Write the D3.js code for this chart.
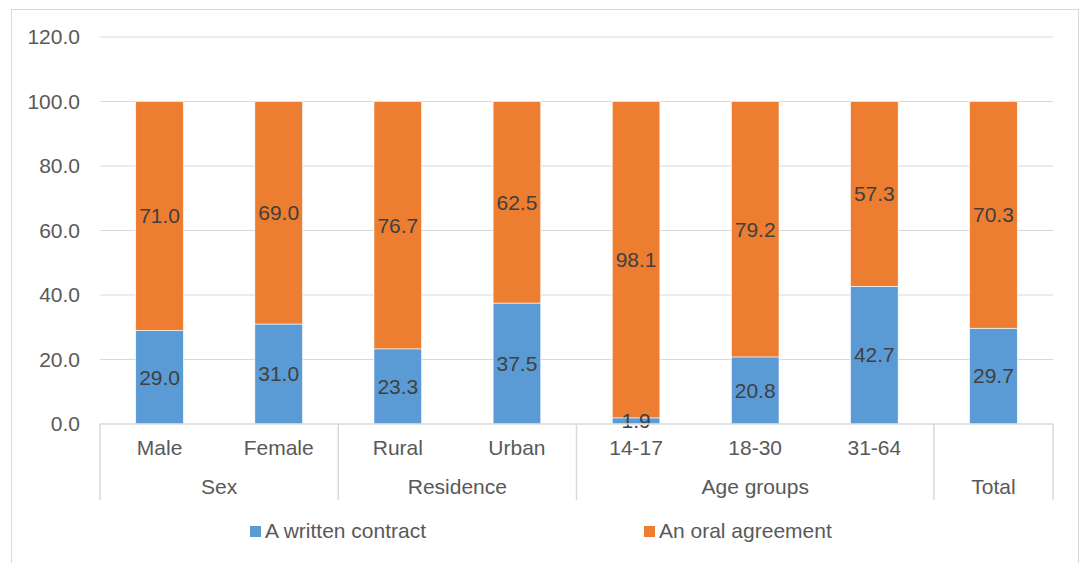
<!DOCTYPE html>
<html><head><meta charset="utf-8">
<script src="https://cdn.jsdelivr.net/npm/d3@7"></script>
<style>body{margin:0;background:#fff;}svg{display:block;font-family:"Liberation Sans",Arial,sans-serif;}</style>
</head><body><svg id="c" width="1081" height="563"></svg>
<script>
const categories = ["Male","Female","Rural","Urban","14-17","18-30","31-64","Total"];
const categoryLabels = ["Male","Female","Rural","Urban","14-17","18-30","31-64",""];
const groups = [{name:"Sex",size:2},{name:"Residence",size:2},{name:"Age groups",size:3},{name:"Total",size:1}];
const written = [29.0,31.0,23.3,37.5,1.9,20.8,42.7,29.7];
const oral = [71.0,69.0,76.7,62.5,98.1,79.2,57.3,70.3];
const yTicks = [0,20,40,60,80,100,120];
const seriesNames = ["A written contract","An oral agreement"];
const colors = ["#5b9bd5","#ed7d31"];

const svg = d3.select("#c");
svg.append("rect").attr("x",11.5).attr("y",9.5).attr("width",1067).attr("height",570)
  .attr("fill","#fff").attr("stroke","#d9d9d9");

const L=100,R=1053,T=37,B=424;
const x = d3.scaleBand().domain(categories).range([L,R]).padding(0);
const y = d3.scaleLinear().domain([0,120]).range([B,T]);
const bw = x.bandwidth()*0.4;

// gridlines
svg.append("g").selectAll("line").data(yTicks.filter(t=>t>0)).join("line")
  .attr("x1",L).attr("x2",R).attr("y1",d=>y(d)).attr("y2",d=>y(d))
  .attr("stroke","#d9d9d9").attr("stroke-width",1);

// y axis labels
const ya = svg.append("g").attr("transform",`translate(${L},0)`)
  .call(d3.axisLeft(y).tickValues(yTicks).tickFormat(d3.format(".1f")).tickSize(0).tickPadding(20));
ya.select(".domain").remove();
ya.selectAll("text").attr("font-size",21).attr("fill","#595959").attr("font-family","Liberation Sans, Arial, sans-serif");

// stacked bars
const data = categories.map((c,i)=>({c, w:written[i], o:oral[i]}));
const g = svg.append("g");
g.selectAll("rect.w").data(data).join("rect").attr("class","w")
  .attr("x",d=>x(d.c)+x.bandwidth()/2-bw/2).attr("width",bw)
  .attr("y",d=>y(d.w)).attr("height",d=>y(0)-y(d.w))
  .attr("fill",colors[0]).attr("stroke","#fff").attr("stroke-width",0.6);
g.selectAll("rect.o").data(data).join("rect").attr("class","o")
  .attr("x",d=>x(d.c)+x.bandwidth()/2-bw/2).attr("width",bw)
  .attr("y",d=>y(d.w+d.o)).attr("height",d=>y(d.w)-y(d.w+d.o))
  .attr("fill",colors[1]).attr("stroke","#fff").attr("stroke-width",0.6);

// labels
const lab = svg.append("g").attr("font-size",21).attr("fill","#404040").attr("text-anchor","middle");
lab.selectAll("text.w").data(data).join("text")
  .attr("x",d=>x(d.c)+x.bandwidth()/2).attr("y",d=>y(d.w/2)).attr("dy","0.35em").text(d=>d.w.toFixed(1));
lab.selectAll("text.o").data(data).join("text")
  .attr("x",d=>x(d.c)+x.bandwidth()/2).attr("y",d=>y(d.w+d.o/2)).attr("dy","0.35em").text(d=>d.o.toFixed(1));

// x axis line
svg.append("line").attr("x1",L).attr("x2",R).attr("y1",B).attr("y2",B).attr("stroke","#d9d9d9").attr("stroke-width",1.5);

// category labels
svg.append("g").selectAll("text").data(categories).join("text")
  .attr("x",d=>x(d)+x.bandwidth()/2).attr("y",455).attr("text-anchor","middle")
  .attr("font-size",21).attr("fill","#595959").text((d,i)=>categoryLabels[i]);

// group separators and labels
let idx=0;
const bounds=[L];
groups.forEach(gr=>{idx+=gr.size; bounds.push(x(categories[idx-1])+x.bandwidth());});
svg.append("g").selectAll("line").data(bounds).join("line")
  .attr("x1",d=>d).attr("x2",d=>d).attr("y1",B).attr("y2",500)
  .attr("stroke","#d9d9d9").attr("stroke-width",1.5);
svg.append("g").selectAll("text").data(groups).join("text")
  .attr("x",(d,i)=>(bounds[i]+bounds[i+1])/2).attr("y",494).attr("text-anchor","middle")
  .attr("font-size",21).attr("fill","#595959").text(d=>d.name);

// legend
const legX=[250,644];
const lg = svg.append("g");
seriesNames.forEach((n,i)=>{
  lg.append("rect").attr("x",legX[i]).attr("y",526).attr("width",11).attr("height",11).attr("fill",colors[i]);
  lg.append("text").attr("x",legX[i]+15).attr("y",538).attr("font-size",21).attr("fill","#595959").text(n);
});
</script></body></html>
